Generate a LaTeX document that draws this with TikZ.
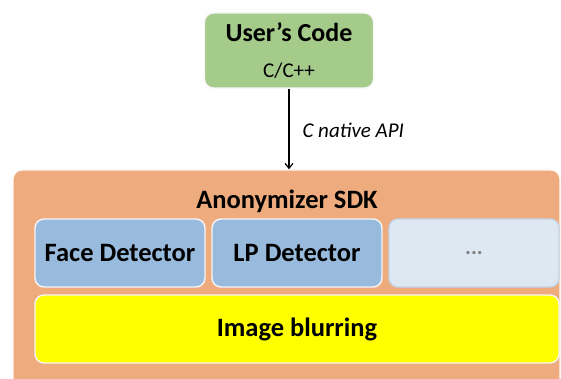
\documentclass[tikz,border=0pt]{standalone}
\usepackage{fontspec}
\setmainfont{Carlito}
\usetikzlibrary{arrows.meta}
\definecolor{usergreen}{HTML}{A5CB8B}
\definecolor{sdkorange}{HTML}{EDAB7E}
\definecolor{detblue}{HTML}{97BADD}
\definecolor{dotsblue}{HTML}{DEE8F3}
\definecolor{dotsedge}{HTML}{C3D5E9}
\definecolor{blury}{HTML}{FFFF00}
\tikzset{
  box/.style={rounded corners=9pt, line width=1.4pt, draw=white!92!gray, inner sep=0pt},
  detbox/.style={box, fill=detblue, minimum width=170pt, minimum height=68pt, font=\fontsize{26.5}{30}\selectfont\bfseries},
  conn/.style={line width=1.2pt, -{Straight Barb[length=5pt,width=8pt]}},
}
\begin{document}
\begin{tikzpicture}[x=1pt,y=-1pt]
\useasboundingbox (0,0) rectangle (561,379);
\clip (0,0) rectangle (561,379);
\node[box, fill=usergreen, minimum width=169pt, minimum height=75pt] (user) at (289,50.5) {};
\node[font=\fontsize{26}{30}\selectfont\bfseries] (usertitle) at (289,32) {User’s Code};
\node[font=\fontsize{21}{25}\selectfont] (userlang) at (289,71) {C/C++};
\node[box, fill=sdkorange, draw=white!90!sdkorange, minimum width=547pt, minimum height=225pt] (sdk) at (286.5,282.5) {};
\node[font=\fontsize{26.5}{30}\selectfont\bfseries] (sdktitle) at (287,201) {Anonymizer SDK};
\node[detbox] (face) at (120,253) {Face Detector};
\node[detbox] (lp) at (297,253) {LP Detector};
\node[detbox, fill=dotsblue, draw=dotsedge, text=gray, font=\fontsize{22}{26}\selectfont\bfseries] (dots) at (474,253) {...};
\node[box, fill=blury, minimum width=524pt, minimum height=68pt, font=\fontsize{26.5}{30}\selectfont\bfseries] (blur) at (297,329) {Image blurring};
\draw[conn] (user.south) -- (user.south |- sdk.north);
\node[anchor=west, font=\fontsize{21}{25}\selectfont\itshape] (api) at (299,130) {C native API};
\end{tikzpicture}
\end{document}
